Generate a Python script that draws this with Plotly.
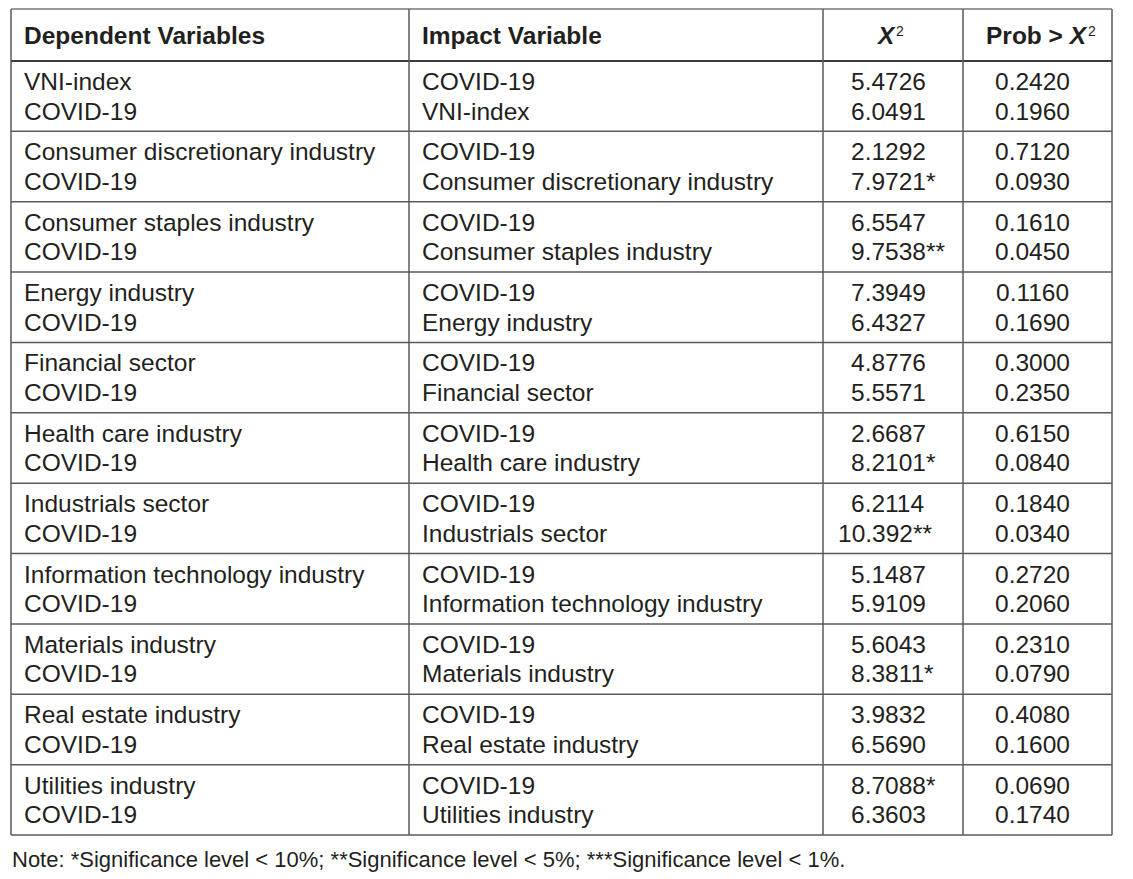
import plotly.graph_objects as go

# ---------------- data ----------------
header = ["Dependent Variables", "Impact Variable", "X", "Prob > X"]

groups = ["VNI-index", "Consumer discretionary industry", "Consumer staples industry",
          "Energy industry", "Financial sector", "Health care industry",
          "Industrials sector", "Information technology industry", "Materials industry",
          "Real estate industry", "Utilities industry"]
shock = "COVID-19"

chi2 = ["5.4726", "6.0491", "2.1292", "7.9721*", "6.5547", "9.7538**",
        "7.3949", "6.4327", "4.8776", "5.5571", "2.6687", "8.2101*",
        "6.2114", "10.392**", "5.1487", "5.9109", "5.6043", "8.3811*",
        "3.9832", "6.5690", "8.7088*", "6.3603"]
prob = ["0.2420", "0.1960", "0.7120", "0.0930", "0.1610", "0.0450",
        "0.1160", "0.1690", "0.3000", "0.2350", "0.6150", "0.0840",
        "0.1840", "0.0340", "0.2720", "0.2060", "0.2310", "0.0790",
        "0.4080", "0.1600", "0.0690", "0.1740"]

note = "Note: *Significance level < 10%; **Significance level < 5%; ***Significance level < 1%."

# ---------------- layout constants ----------------
W, H = 1133, 879
PAGE_OFF = 8  # default body margin of the html page
LEFT, RIGHT, TOP, HEAD_BOT, BOTTOM = 11, 1112, 9, 61, 835
COLS = [LEFT, 409, 823, 963, RIGHT]
GH = (BOTTOM - HEAD_BOT) / len(groups)
FONT = "Liberation Sans, Arial, Helvetica, sans-serif"
FS = 24.5
DIGIT_W = 0.556 * FS
TXT = "#231f20"
LINE = "#5a5a5a"

fig = go.Figure()
shapes = []
ann = []

def line(x0, y0, x1, y1, w=1.5, c=LINE):
    shapes.append(dict(type="line", xref="x", yref="y", x0=x0, y0=y0, x1=x1, y1=y1,
                       line=dict(color=c, width=w)))

def text(x, y, s, anchor="left", size=FS, bold=False, italic=False):
    if italic:
        s = "<i>" + s + "</i>"
    if bold:
        s = "<b>" + s + "</b>"
    ann.append(dict(x=x, y=y, xref="x", yref="y", text=s, showarrow=False,
                    xanchor=anchor, yanchor="middle", borderpad=0,
                    font=dict(family=FONT, size=size, color=TXT)))

# borders
line(LEFT, TOP, RIGHT, TOP, 1.5, "#777777")
line(LEFT, BOTTOM, RIGHT, BOTTOM)
line(LEFT, HEAD_BOT, RIGHT, HEAD_BOT, 1.8, "#3a3a3a")
for i in range(1, len(groups)):
    line(LEFT, HEAD_BOT + i * GH, RIGHT, HEAD_BOT + i * GH)
for cx in COLS:
    line(cx, TOP, cx, BOTTOM)

# header
hy = (TOP + HEAD_BOT) / 2 + 0.5
text(23, hy, header[0], bold=True)
text(421, hy, header[1], bold=True)
text(897, hy, "<i>" + header[2] + "</i>", anchor="right", bold=True)
text(895, hy - 5, "2", size=14)
text(1089, hy, header[3].replace("X", "<i>X</i>"), anchor="right", bold=True)
text(1087, hy - 5, "2", size=14)

# body
DEC_X = 864
for g, name in enumerate(groups):
    top = HEAD_BOT + g * GH
    lines_dep = [name, shock]
    lines_imp = [shock, name]
    for k, off in enumerate([20.5, 50]):
        y = top + off
        idx = 2 * g + k
        text(23, y, lines_dep[k])
        text(421, y, lines_imp[k])
        n_int = len(chi2[idx].split(".", 1)[0])
        text(DEC_X - n_int * DIGIT_W, y, chi2[idx], anchor="left")
        text(1032, y, prob[idx], anchor="center")

# note
text(11, 859, note, size=22)

fig.update_layout(
    width=W - PAGE_OFF, height=H - PAGE_OFF,
    margin=dict(l=0, r=0, t=0, b=0),
    paper_bgcolor="white", plot_bgcolor="white",
    xaxis=dict(range=[PAGE_OFF, W], visible=False, fixedrange=True),
    yaxis=dict(range=[H, PAGE_OFF], visible=False, fixedrange=True),
    shapes=shapes, annotations=ann, showlegend=False,
)
fig.write_html("out.html")
